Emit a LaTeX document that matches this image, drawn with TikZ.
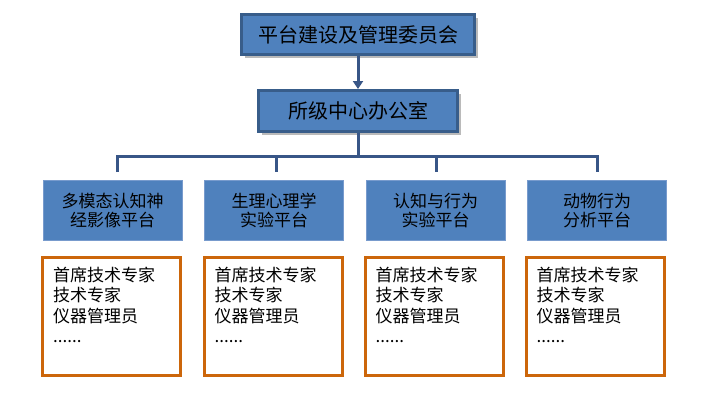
\documentclass[tikz,border=0pt]{standalone}
\usepackage{fontspec}
\setmainfont{Noto Sans CJK SC}
\usetikzlibrary{shadows,arrows.meta}
\definecolor{boxfill}{RGB}{79,129,189}
\definecolor{boxline}{RGB}{56,93,138}
\definecolor{platline}{RGB}{120,155,205}
\definecolor{orangeline}{RGB}{204,102,10}
\definecolor{connline}{RGB}{56,86,135}
\tikzset{
  headbox/.style={draw=boxline, fill=boxfill, line width=3pt,
    drop shadow={shadow xshift=3pt, shadow yshift=-3pt, fill=black!45, opacity=0.6},
    font=\fontsize{20}{24}\selectfont, inner sep=0pt},
  platbox/.style={draw=platline, fill=boxfill, line width=0.8pt,
    minimum width=139pt, minimum height=60pt, inner sep=0pt, align=center,
    font=\fontsize{17}{19}\selectfont},
  listbox/.style={draw=orangeline, line width=3pt, fill=white,
    minimum width=138pt, minimum height=118pt, inner sep=0pt},
  listtext/.style={anchor=north west, align=left, inner sep=0pt,
    font=\fontsize{17}{20.5}\selectfont},
  conn/.style={draw=connline, line width=3pt, line join=miter},
}
\begin{document}
\begin{tikzpicture}[x=1pt,y=-1pt]
\useasboundingbox (0,0) rectangle (719,405);
\node[headbox, minimum width=233pt, minimum height=40pt] (top) at (358,34.5) {平台建设及管理委员会};
\node[headbox, minimum width=199pt, minimum height=41pt] (mid) at (358,111) {所级中心办公室};

\node[platbox] (p1) at (112.5,210.5) {多模态认知神\\经影像平台};
\node[platbox] (p2) at (274,210.5) {生理心理学\\实验平台};
\node[platbox] (p3) at (435.5,210.5) {认知与行为\\实验平台};
\node[platbox] (p4) at (597,210.5) {动物行为\\分析平台};

\node[listbox] (l1) at (111.5,316.5) {};
\node[listbox] (l2) at (273,316.5) {};
\node[listbox] (l3) at (434,316.5) {};
\node[listbox] (l4) at (595,316.5) {};
\foreach \i in {1,2,3,4}{
  \node[listtext] (t\i) at ([xshift=12pt,yshift=-10.5pt]l\i.north west) {首席技术专家\\技术专家\\仪器管理员\\......};
}

\draw[conn, -{Triangle[width=10pt,length=8pt]}] (top.south) -- (mid.north);

\coordinate (bj) at (358,156);
\coordinate (b1) at (117,156);
\coordinate (b2) at (276,156);
\coordinate (b3) at (436,156);
\coordinate (b4) at (597,156);
\coordinate (d1) at (117,172);
\coordinate (d2) at (276,172);
\coordinate (d3) at (436,172);
\coordinate (d4) at (597,172);
\draw[conn] (mid.south) -- (bj);
\draw[conn] (d1) -- (b1) -- (b4) -- (d4);
\draw[conn] (b2) -- (d2);
\draw[conn] (b3) -- (d3);
\end{tikzpicture}
\end{document}
